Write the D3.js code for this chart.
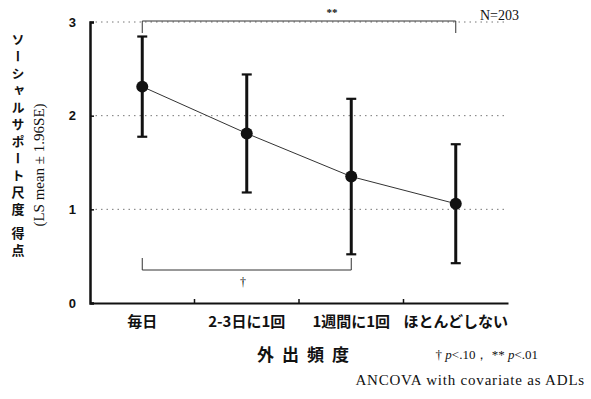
<!DOCTYPE html>
<html>
<head>
<meta charset="utf-8">
<script src="https://cdn.jsdelivr.net/npm/d3@7"></script>
<style>
  html, body { margin: 0; padding: 0; background: #fff; }
  svg { display: block; }
  .jp { font-family: "Noto Sans CJK JP", sans-serif; }
  .serif { font-family: "Liberation Serif", "DejaVu Serif", serif; }
</style>
</head>
<body>
<svg id="chart" width="591" height="399"></svg>
<script>
// Social support score by frequency of going out (LS mean ± 1.96SE)
const categories = ["毎日", "2-3日に1回", "1週間に1回", "ほとんどしない"];
const lsMeans = [2.31, 1.81, 1.35, 1.06];
const ci95 = [0.535, 0.63, 0.83, 0.635];   // 1.96 × SE
const yTicks = [0, 1, 2, 3];
const gridValues = [1, 2, 3];

const svg = d3.select("#chart");
const ink = "#111";

const x = d3.scaleBand().domain(categories).range([90, 508]).padding(0);
const y = d3.scaleLinear().domain([0, 3]).range([303, 22]);
const cx = c => x(c) + x.bandwidth() / 2;

// dotted reference lines
svg.append("g").selectAll("line").data(gridValues).join("line")
  .attr("x1", x.range()[0]).attr("x2", x.range()[1])
  .attr("y1", d => y(d)).attr("y2", d => y(d))
  .attr("stroke", "#777").attr("stroke-width", 1)
  .attr("stroke-dasharray", "1.5,4");

// y axis
const yAxis = d3.axisLeft(y).tickValues(yTicks).tickSize(-4).tickPadding(14).tickFormat(d3.format("d"));
const gy = svg.append("g").attr("transform", `translate(${x.range()[0]},0)`).call(yAxis);
gy.select(".domain").attr("stroke", ink).attr("stroke-width", 2.5);
gy.selectAll(".tick line").attr("stroke", ink).attr("stroke-width", 1.5);
gy.selectAll(".tick text")
  .attr("font-family", "Liberation Sans, Arial, sans-serif")
  .attr("font-weight", "bold").attr("font-size", 13).attr("fill", ink);

// x axis with ticks between groups
const xAxis = d3.axisBottom(x).tickSize(0).tickPadding(13);
const gx = svg.append("g").attr("transform", `translate(0,${y(0)})`).call(xAxis);
gx.select(".domain").attr("stroke", ink).attr("stroke-width", 2.2);
gx.selectAll(".tick text")
  .attr("class", "jp").attr("font-size", 15).attr("font-weight", "bold").attr("fill", ink);
gx.selectAll("line.sep").data(categories.slice(1)).join("line").attr("class", "sep")
  .attr("x1", d => x(d)).attr("x2", d => x(d))
  .attr("y1", 0).attr("y2", -4)
  .attr("stroke", ink).attr("stroke-width", 1.5);

// connecting line through the means
svg.append("path")
  .datum(categories.map((c, i) => [cx(c), y(lsMeans[i])]))
  .attr("d", d3.line())
  .attr("fill", "none").attr("stroke", "#333").attr("stroke-width", 1);

// error bars
const bars = svg.append("g").selectAll("g").data(categories).join("g");
bars.append("line")
  .attr("x1", cx).attr("x2", cx)
  .attr("y1", (c, i) => y(lsMeans[i] + ci95[i]))
  .attr("y2", (c, i) => y(lsMeans[i] - ci95[i]))
  .attr("stroke", ink).attr("stroke-width", 3);
[1, -1].forEach(s => {
  bars.append("line")
    .attr("x1", c => cx(c) - 5).attr("x2", c => cx(c) + 5)
    .attr("y1", (c, i) => y(lsMeans[i] + s * ci95[i]))
    .attr("y2", (c, i) => y(lsMeans[i] + s * ci95[i]))
    .attr("stroke", ink).attr("stroke-width", 2.2);
});
bars.append("circle")
  .attr("cx", cx).attr("cy", (c, i) => y(lsMeans[i]))
  .attr("r", 6).attr("fill", ink);

// significance brackets
function bracket(a, b, yLine, yEnd) {
  svg.append("path")
    .attr("d", `M${cx(a)},${yEnd}V${yLine}H${cx(b)}V${yEnd}`)
    .attr("fill", "none").attr("stroke", "#333").attr("stroke-width", 1);
}
bracket(categories[0], categories[3], 21, 33);
bracket(categories[0], categories[2], 270, 258);
svg.append("text").attr("x", 332).attr("y", 16).attr("text-anchor", "middle")
  .attr("class", "serif").attr("font-size", 11).attr("font-weight", "bold")
  .attr("fill", ink).text("**");
svg.append("text").attr("x", 243).attr("y", 286).attr("text-anchor", "middle")
  .attr("class", "serif").attr("font-size", 12).attr("fill", ink).text("†");

svg.append("text").attr("x", 480).attr("y", 20)
  .attr("class", "serif").attr("font-size", 14).attr("fill", ink).text("N=203");

// y axis titles
svg.append("text")
  .attr("class", "jp").attr("x", 18).attr("y", 33)
  .attr("font-size", 13).attr("font-weight", "bold").attr("fill", ink)
  .style("writing-mode", "vertical-rl").style("letter-spacing", "4px")
  .text("ソーシャルサポート尺度 得点");
svg.append("text")
  .attr("class", "serif")
  .attr("transform", "translate(44,165) rotate(-90)")
  .attr("text-anchor", "middle").attr("font-size", 15).attr("fill", ink)
  .text("(LS mean ± 1.96SE)");

// x axis title
svg.append("text").attr("class", "jp").attr("x", 307).attr("y", 361)
  .attr("text-anchor", "middle").attr("font-size", 17).attr("font-weight", "bold")
  .style("letter-spacing", "8px").attr("fill", ink).text("外出頻度");

// notes
const note = svg.append("text").attr("class", "serif").attr("x", 538).attr("y", 359)
  .attr("text-anchor", "end").attr("font-size", 13).attr("fill", ink);
note.append("tspan").text("† ");
note.append("tspan").attr("font-style", "italic").text("p");
note.append("tspan").text("<.10， ** ");
note.append("tspan").attr("font-style", "italic").text("p");
note.append("tspan").text("<.01");
svg.append("text").attr("class", "serif").attr("x", 585).attr("y", 385)
  .attr("text-anchor", "end").attr("font-size", 15).attr("fill", ink)
  .style("letter-spacing", "0.8px")
  .text("ANCOVA with covariate as ADLs");
</script>
</body>
</html>
